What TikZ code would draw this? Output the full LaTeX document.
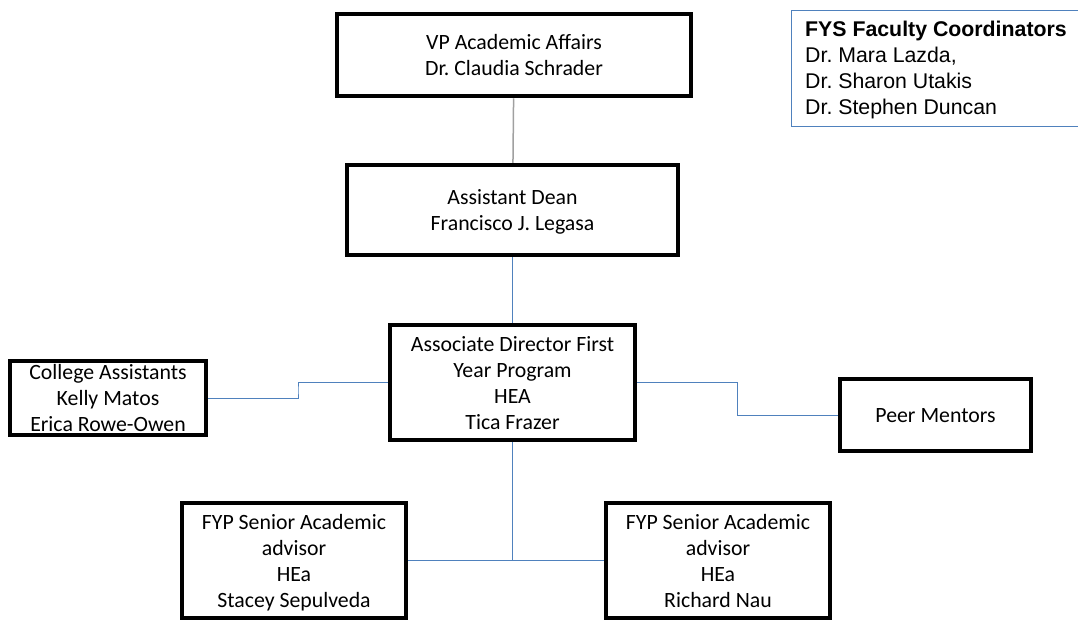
\documentclass[tikz,border=0pt]{standalone}
\usepackage{fontspec}
\setmainfont{Carlito}
\newfontfamily\arialfont{Liberation Sans}
\usetikzlibrary{calc}
\definecolor{linkblue}{HTML}{4F81BD}
\definecolor{linkgray}{HTML}{A0A0A0}
\frenchspacing

\begin{document}
\begin{tikzpicture}[x=1pt,y=-1pt,
    orgbox/.style={draw, line width=4.5pt, align=center, inner sep=0pt, text depth=0pt,
        font=\fontsize{21.8}{26}\selectfont},
    link/.style={linkblue, line width=1pt}]
        \useasboundingbox (0,0) rectangle (1078,622);
        \node [orgbox, minimum width=354, minimum height=82] (vp) at (514,55) {VP Academic Affairs\\Dr. Claudia Schrader};
        \node [orgbox, minimum width=331, minimum height=90] (dean) at (512.5,210) {Assistant Dean\\Francisco J. Legasa};
        \node [orgbox, minimum width=245, minimum height=115] (assoc) at (512.5,382.5) {Associate Director First\\Year Program\\HEA\\Tica Frazer};
        \node [orgbox, minimum width=196, minimum height=74] (college) at (108,398) {College Assistants\\Kelly Matos\\Erica Rowe-Owen};
        \node [orgbox, minimum width=191, minimum height=72] (peer) at (935.5,415) {Peer Mentors};
        \node [orgbox, minimum width=224, minimum height=115] (fypl) at (294,560.5) {FYP Senior Academic\\advisor\\HEa\\Stacey Sepulveda};
        \node [orgbox, minimum width=224, minimum height=115] (fypr) at (718,560.5) {FYP Senior Academic\\advisor\\HEa\\Richard Nau};
        % coordinators box
        \draw [linkblue, line width=1pt] (791,10) rectangle (1078,126);
        \node [anchor=north west, inner sep=0pt, align=left, font=\arialfont\fontsize{21.3}{26}\selectfont] (fys) at (805,21)
            {\textbf{FYS Faculty Coordinators}\\Dr. Mara Lazda,\\Dr. Sharon Utakis\\Dr. Stephen Duncan};
        \draw [linkgray, line width=1.5pt] (vp) -- (dean);
        \draw [link] (dean) -- (assoc);
        \draw [link] (assoc.west) -| ($(assoc.west)!0.5!(college.east)$) |- (college.east);
        \draw [link] (assoc.east) -| ($(assoc.east)!0.5!(peer.west)$) |- (peer.west);
        \draw [link] (assoc.south) -- (assoc.south |- fypl.east);
        \draw [link] (fypl.east) -- (fypr.west);
    \end{tikzpicture}
\end{document}
